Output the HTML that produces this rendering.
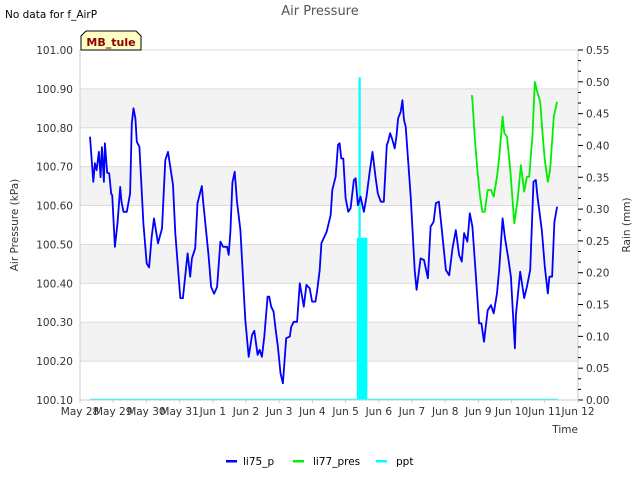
<!DOCTYPE html>
<html><head><meta charset="utf-8"><style>
body{margin:0;background:#fff;}
svg text{font-family:"DejaVu Sans","Liberation Sans",sans-serif;}
</style></head><body>
<svg id="chart" width="640" height="480" xmlns="http://www.w3.org/2000/svg">
<text x="5" y="18" font-size="10.5" fill="#000">No data for f_AirP</text>
<text x="320" y="15" font-size="13" fill="#555" text-anchor="middle">Air Pressure</text>
<g id="bands"></g>
<g id="grid"></g>
<g id="series"></g>
<g id="axes"></g>
<g>
<path d="M81,50 L81,36 L86,31 L136,31 L141,36 L141,50 Z" fill="#ffffc4" stroke="#000" stroke-width="1"/>
<text x="111" y="46" font-size="11" font-weight="bold" fill="#8b0000" text-anchor="middle">MB_tule</text>
</g>
<text transform="translate(18,225) rotate(-90)" font-size="10.5" fill="#333" text-anchor="middle">Air Pressure (kPa)</text>
<text transform="translate(630,225) rotate(-90)" font-size="10.5" fill="#333" text-anchor="middle">Rain (mm)</text>
<text x="578" y="433" font-size="10.5" fill="#333" text-anchor="end">Time</text>
<g>
<g><rect x="226" y="460" width="11" height="2.5" fill="#0000ff"/><text x="243" y="465" font-size="10.5" fill="#000">li75_p</text></g>
<g><rect x="293" y="460" width="11" height="2.5" fill="#00ee00"/><text x="313" y="465" font-size="10.5" fill="#000">li77_pres</text></g>
<g><rect x="376" y="460" width="11" height="2.5" fill="#00ffff"/><text x="396" y="465" font-size="10.5" fill="#000">ppt</text></g>
</g>
</svg>
<script>
// days since May 28 00:00
const li75Times=[0.30,0.40,0.45,0.50,0.57,0.62,0.66,0.72,0.75,0.82,0.88,0.94,0.97,1.05,1.13,1.21,1.25,1.31,1.41,1.51,1.56,1.61,1.67,1.71,1.79,1.91,2.01,2.08,2.16,2.23,2.35,2.47,2.57,2.65,2.80,2.87,3.02,3.10,3.24,3.32,3.37,3.47,3.54,3.67,3.72,3.87,3.95,4.04,4.13,4.23,4.31,4.43,4.48,4.53,4.59,4.66,4.73,4.83,4.98,5.08,5.18,5.25,5.35,5.41,5.48,5.55,5.65,5.70,5.76,5.83,5.89,5.96,6.04,6.11,6.21,6.32,6.36,6.44,6.54,6.62,6.74,6.82,6.92,6.99,7.09,7.14,7.22,7.27,7.34,7.43,7.55,7.60,7.70,7.77,7.82,7.87,7.93,8.00,8.08,8.15,8.25,8.30,8.37,8.45,8.55,8.63,8.72,8.81,8.90,8.97,9.06,9.15,9.24,9.28,9.34,9.41,9.48,9.53,9.58,9.66,9.71,9.76,9.81,9.96,10.08,10.14,10.26,10.36,10.48,10.56,10.65,10.72,10.81,10.89,11.02,11.12,11.22,11.32,11.42,11.50,11.57,11.67,11.74,11.82,11.92,12.02,12.09,12.17,12.28,12.38,12.46,12.56,12.63,12.73,12.80,12.90,12.98,13.10,13.13,13.26,13.38,13.46,13.56,13.66,13.73,13.78,13.91,14.00,14.09,14.14,14.22,14.29,14.37];
const li75Values=[100.777,100.661,100.709,100.691,100.738,100.673,100.750,100.661,100.760,100.684,100.683,100.630,100.627,100.494,100.554,100.648,100.610,100.584,100.584,100.631,100.811,100.850,100.824,100.764,100.751,100.554,100.451,100.441,100.520,100.567,100.503,100.541,100.717,100.738,100.653,100.529,100.362,100.362,100.477,100.417,100.464,100.490,100.606,100.650,100.601,100.473,100.391,100.373,100.391,100.507,100.494,100.494,100.473,100.533,100.659,100.687,100.610,100.537,100.306,100.211,100.267,100.278,100.216,100.229,100.211,100.263,100.366,100.366,100.340,100.327,100.284,100.237,100.169,100.143,100.259,100.263,100.288,100.301,100.301,100.400,100.340,100.396,100.387,100.353,100.353,100.378,100.434,100.503,100.516,100.533,100.576,100.640,100.674,100.756,100.760,100.721,100.721,100.619,100.584,100.593,100.666,100.670,100.601,100.623,100.584,100.623,100.683,100.738,100.674,100.631,100.610,100.610,100.756,100.764,100.786,100.769,100.747,100.777,100.824,100.841,100.871,100.820,100.803,100.623,100.434,100.383,100.464,100.460,100.413,100.546,100.558,100.606,100.610,100.546,100.434,100.421,100.490,100.537,100.473,100.456,100.529,100.507,100.580,100.546,100.426,100.297,100.297,100.250,100.331,100.344,100.323,100.374,100.439,100.567,100.516,100.464,100.417,100.233,100.319,100.430,100.362,100.391,100.434,100.661,100.666,100.623,100.537,100.443,100.374,100.417,100.417,100.558,100.597];
const li77Times=[11.80,11.82,11.89,11.97,12.05,12.12,12.19,12.28,12.38,12.46,12.56,12.63,12.73,12.78,12.86,12.96,13.08,13.18,13.28,13.38,13.46,13.53,13.63,13.70,13.76,13.86,13.94,14.00,14.09,14.16,14.27,14.37];
const li77Values=[100.884,100.871,100.777,100.691,100.623,100.584,100.584,100.640,100.640,100.623,100.674,100.726,100.829,100.786,100.777,100.691,100.554,100.614,100.704,100.636,100.674,100.674,100.781,100.918,100.897,100.867,100.777,100.717,100.661,100.691,100.829,100.867];
const pptTimes=[0.30,8.37,8.42,8.47,8.52,8.57,8.62,14.40];
const pptValues=[0,0.255,0.507,0.255,0.255,0.255,0.255,0];
const xTickLabels=["May 28","May 29","May 30","May 31","Jun 1","Jun 2","Jun 3","Jun 4","Jun 5","Jun 6","Jun 7","Jun 8","Jun 9","Jun 10","Jun 11","Jun 12"];
const yTickLabels=["100.10","100.20","100.30","100.40","100.50","100.60","100.70","100.80","100.90","101.00"];
const y2TickLabels=["0.00","0.05","0.10","0.15","0.20","0.25","0.30","0.35","0.40","0.45","0.50","0.55"];

const NS="http://www.w3.org/2000/svg";
const L=80,R=578,T=50,B=400;
const xs=t=>L+t*(R-L)/15;
const ys=p=>B-(p-100.1)*(B-T)/0.9;
const y2s=v=>B-v*(B-T)/0.55;
function mk(tag,attrs,parent){const e=document.createElementNS(NS,tag);for(const k in attrs)e.setAttribute(k,attrs[k]);parent.appendChild(e);return e;}
const bands=document.getElementById('bands'),grid=document.getElementById('grid'),series=document.getElementById('series'),axes=document.getElementById('axes');
mk('rect',{x:L,y:T,width:R-L,height:B-T,fill:'#fff'},bands);
for(let i=0;i<yTickLabels.length-1;i++){
  if(i%2===1){const r=mk('rect',{x:L,y:ys(100.1+(i+1)*0.1),width:R-L,height:(B-T)/9,fill:'#f3f3f3'},bands);
  
  }
}
yTickLabels.forEach((lab,i)=>{
  const y=ys(parseFloat(lab));
  const g=mk('line',{x1:L,x2:R,y1:y,y2:y,stroke:'#dcdcdc','stroke-width':1},grid);
  
  
  const t=mk('text',{x:L-7,y:y+4,'font-size':10.5,fill:'#333','text-anchor':'end'},axes);
  
  
  t.textContent=lab;
});
mk('line',{x1:L,x2:L,y1:T,y2:B,stroke:'#ccc'},axes);
mk('line',{x1:R,x2:R,y1:T,y2:B,stroke:'#ccc'},axes);
mk('line',{x1:L,x2:R,y1:B,y2:B,stroke:'#ccc'},axes);
y2TickLabels.forEach((lab,i)=>{
  const v=parseFloat(lab),y=y2s(v);
  mk('line',{x1:R,x2:R+5,y1:y,y2:y,stroke:'#000'},axes);
  if(i<y2TickLabels.length-1){for(let k=1;k<3;k++){const yy=y2s(v+k*0.05/3);mk('line',{x1:R,x2:R+3,y1:yy,y2:yy,stroke:'#000'},axes);}}
  const t=mk('text',{x:R+8,y:y+4,'font-size':10.5,fill:'#333'},axes);
  
  
  t.textContent=lab;
});
xTickLabels.forEach((lab,i)=>{
  const x=xs(i);
  mk('line',{x1:x,x2:x,y1:B,y2:B+3,stroke:'#ccc'},axes);
  const t=mk('text',{x:x,y:B+15,'font-size':10.5,fill:'#333','text-anchor':'middle'},axes);
  
  
  t.textContent=lab;
});
const base=mk('line',{x1:xs(pptTimes[0]),x2:xs(pptTimes[pptTimes.length-1]),y1:y2s(0)-0.5,y2:y2s(0)-0.5,stroke:'#00ffff','stroke-width':1.5},series);


pptTimes.forEach((t,i)=>{
  if(pptValues[i]<=0)return;
  const r=mk('rect',{x:xs(t)-1,y:y2s(pptValues[i]),width:2.2,height:y2s(0)-y2s(pptValues[i]),fill:'#00ffff'},series);
  
  
});
function line(ts,vs,color,name){
  const pts=ts.map((t,i)=>xs(t).toFixed(1)+','+ys(vs[i]).toFixed(1)).join(' ');
  const p=mk('polyline',{points:pts,fill:'none',stroke:color,'stroke-width':1.8,'stroke-linejoin':'round'},series);
  
  
}
line(li75Times,li75Values,'#0000ff','li75-p-line');
line(li77Times,li77Values,'#00ee00','li77-pres-line');
</script>
</body></html>
